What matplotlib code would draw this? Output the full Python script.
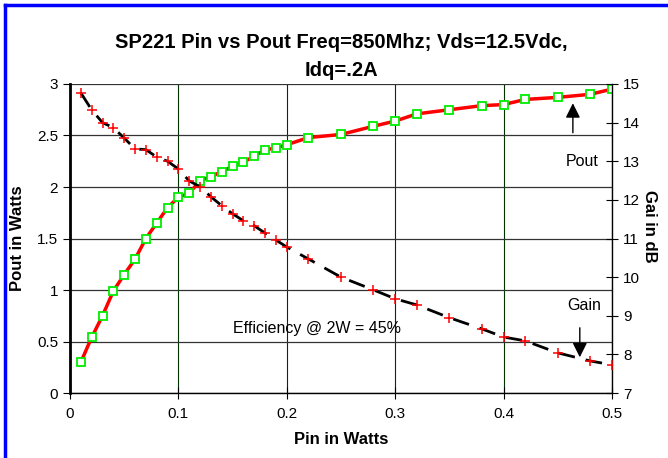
import matplotlib
matplotlib.use('Agg')
import matplotlib.pyplot as plt
from matplotlib.lines import Line2D

plt.rcParams['font.family'] = ['Liberation Sans', 'DejaVu Sans']

pin = [0.01, 0.02, 0.03, 0.04, 0.05, 0.06, 0.07, 0.08, 0.09, 0.10,
       0.11, 0.12, 0.13, 0.14, 0.15, 0.16, 0.17, 0.18, 0.19, 0.20,
       0.22, 0.25, 0.28, 0.30, 0.32, 0.35, 0.38, 0.40, 0.42, 0.45,
       0.48, 0.50]
pout = [0.30, 0.54, 0.75, 0.99, 1.15, 1.30, 1.50, 1.65, 1.80, 1.90,
        1.94, 2.06, 2.10, 2.15, 2.20, 2.24, 2.30, 2.36, 2.38, 2.41,
        2.48, 2.51, 2.59, 2.64, 2.71, 2.75, 2.79, 2.80, 2.85, 2.87,
        2.90, 2.95]
gain = [14.77, 14.33, 14.00, 13.87, 13.60, 13.32, 13.30, 13.11, 13.00, 12.80,
        12.49, 12.34, 12.08, 11.85, 11.64, 11.46, 11.33, 11.14, 10.96, 10.78,
        10.47, 10.00, 9.67, 9.44, 9.28, 8.95, 8.66, 8.45, 8.35, 8.04,
        7.83, 7.73]

fig = plt.figure(figsize=(6.68, 4.58), dpi=100)
ax = fig.add_axes([0.1048, 0.1419, 0.8112, 0.6747])

# blue border (left and top only visible)
fig.add_artist(Line2D([0.0075, 0.0075], [0, 0.99], transform=fig.transFigure,
                      color='#0000ff', lw=2.5))
fig.add_artist(Line2D([0.0075, 1.0], [0.99, 0.99], transform=fig.transFigure,
                      color='#0000ff', lw=2.5))

ax.set_xlim(0, 0.5)
ax.set_ylim(0, 3)
ax.set_xticks([0, 0.1, 0.2, 0.3, 0.4, 0.5])
ax.set_xticklabels(['0', '0.1', '0.2', '0.3', '0.4', '0.5'])
ax.set_yticks([0, 0.5, 1, 1.5, 2, 2.5, 3])
ax.set_yticklabels(['0', '0.5', '1', '1.5', '2', '2.5', '3'])
ax.xaxis.grid(True, color='#003300', lw=0.8)
ax.yaxis.grid(True, color='#333333', lw=0.9)
ax.set_axisbelow(True)

for s in ['top', 'right']:
    ax.spines[s].set_visible(False)
ax.spines['left'].set_linewidth(2)
ax.spines['bottom'].set_linewidth(1)
ax.tick_params(axis='x', direction='inout', length=8, labelsize=11, pad=6)
ax.tick_params(axis='y', direction='out', length=5, labelsize=11)

ax2 = ax.twinx()
ax2.set_ylim(7, 15)
ax2.set_yticks(range(7, 16))
for s in ['top', 'left', 'bottom']:
    ax2.spines[s].set_visible(False)
ax2.spines['right'].set_linewidth(1)
ax2.tick_params(axis='y', direction='inout', length=9, labelsize=11)

ax2.plot(pin, gain, color='black', lw=2, ls=(0, (6, 4)),
         marker='+', markersize=7.5, markeredgecolor='red', markeredgewidth=1.1, zorder=3)
ax.plot(pin, pout, color='red', lw=2.5, marker='s', markersize=6,
        markerfacecolor='white', markeredgecolor='#00ee00', markeredgewidth=1.3, zorder=4)

ax.set_ylabel('Pout in Watts', fontsize=12, fontweight='bold', va='center')
ax.yaxis.set_label_coords(-0.096, 0.5)
ax.set_xlabel('Pin in Watts', fontsize=12, fontweight='bold', labelpad=8)
ax2.set_ylabel('Gai in dB', fontsize=12, fontweight='bold', rotation=270, va='center')
ax2.yaxis.set_label_coords(1.07, 0.54)

ax.set_title('SP221 Pin vs Pout Freq=850Mhz; Vds=12.5Vdc,\nIdq=.2A',
             fontsize=14.5, fontweight='bold', pad=6, linespacing=1.55)

ax.annotate('', xy=(0.464, 2.84), xytext=(0.464, 2.5),
            arrowprops=dict(arrowstyle='-|>', color='black', lw=1, mutation_scale=22))
ax.text(0.473, 2.25, 'Pout', ha='center', va='center', fontsize=11.5)
ax.annotate('', xy=(0.4704, 0.32), xytext=(0.4704, 0.66),
            arrowprops=dict(arrowstyle='-|>', color='black', lw=1, mutation_scale=22))
ax.text(0.474, 0.845, 'Gain', ha='center', va='center', fontsize=11.5)
ax.text(0.228, 0.63, 'Efficiency @ 2W = 45%', ha='center', va='center', fontsize=11.5)

fig.savefig('out.png', dpi=100)
